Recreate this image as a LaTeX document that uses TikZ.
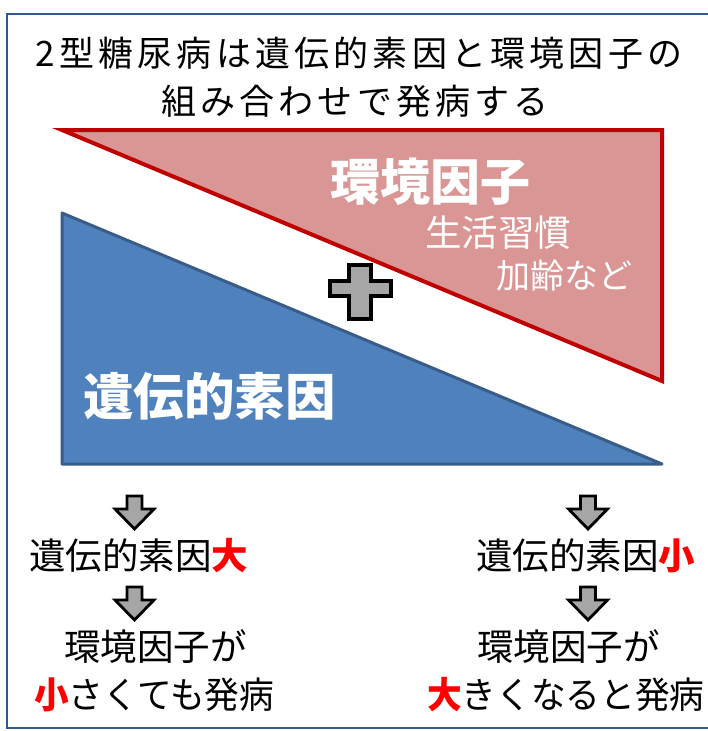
\documentclass[tikz,border=0pt]{standalone}
\usepackage{fontspec}
\newfontfamily\jp{Noto Sans CJK JP}
\newfontfamily\jptitle[LetterSpace=12]{Noto Sans CJK JP}
\definecolor{framec}{HTML}{2E5C8A}
\definecolor{redfill}{HTML}{D99694}
\definecolor{redline}{HTML}{C00000}
\definecolor{bluefill}{HTML}{4F81BD}
\definecolor{blueline}{HTML}{385D8A}
\definecolor{plusgrey}{HTML}{A6A6A6}
\tikzset{
  txt/.style={inner sep=0pt, anchor=base west, font=\jp},
  ttl/.style={inner sep=0pt, anchor=base, font=\jptitle},
  blockarrow/.style={draw=black, fill=plusgrey, line width=2.8pt, line join=miter},
}
\newcommand{\fs}[1]{\fontsize{#1}{#1}\selectfont}
\newcommand{\hl}[1]{\textcolor{red}{\bfseries #1}}
\newcommand{\blockdown}[2]{%
  \draw[blockarrow] (#1-7.5,#2) -- (#1+7.5,#2) -- (#1+7.5,#2+13) -- (#1+19.5,#2+13)
   -- (#1,#2+33) -- (#1-19.5,#2+13) -- (#1-7.5,#2+13) -- cycle;}
\begin{document}
\begin{tikzpicture}[x=1pt,y=-1pt]
\useasboundingbox (0,0) rectangle (708,731);
\fill[white] (0,0) rectangle (708,731);
\draw[framec, line width=1.6pt] (7,14) rectangle (715,728);
% title
\node[ttl] (t1) at (359,66) {\fs{35}2型糖尿病は遺伝的素因と環境因子の};
\node[ttl] (t2) at (355,114) {\fs{35}組み合わせで発病する};
% red triangle
\draw[redline, fill=redfill, line width=4pt, line join=miter] (62,130) -- (662,130) -- (662,381) -- cycle;
% blue triangle
\draw[blueline, fill=bluefill, line width=3pt, line join=round] (62,213) -- (62,464) -- (662,464) -- cycle;
% labels
\node[txt, text=white] (env) at (330,200) {\fs{50}\bfseries 環境因子};
\node[txt, text=white] (life) at (425,246) {\fs{36.5}生活習慣};
\node[txt, text=white] (age) at (496,288) {\fs{34}加齢など};
\node[txt, text=white] (gen) at (83,415) {\fs{50.5}\bfseries 遺伝的素因};
% plus
\draw[draw=black, fill=plusgrey, line width=3.5pt, line join=miter]
  (349,265) -- (371,265) -- (371,281) -- (391,281) -- (391,296) -- (371,296)
  -- (371,319) -- (349,319) -- (349,296) -- (330,296) -- (330,281) -- (349,281) -- cycle;
% arrows
\blockdown{134.5}{496}
\blockdown{134.5}{587}
\blockdown{588}{496}
\blockdown{588}{587}
% bottom texts
\node[txt] (l1) at (29,569) {\fs{36.5}遺伝的素因\hl{大}};
\node[txt] (l2) at (64,660) {\fs{36.5}環境因子が};
\node[txt, xscale=0.95, transform shape] (l3) at (34,708) {\fs{36.5}\hl{小}さくても発病};
\node[txt] (r1) at (476,569) {\fs{36.5}遺伝的素因\hl{小}};
\node[txt] (r2) at (477,660) {\fs{36.5}環境因子が};
\node[txt, xscale=0.95, transform shape] (r3) at (427,708) {\fs{36.5}\hl{大}きくなると発病};
\end{tikzpicture}
\end{document}
